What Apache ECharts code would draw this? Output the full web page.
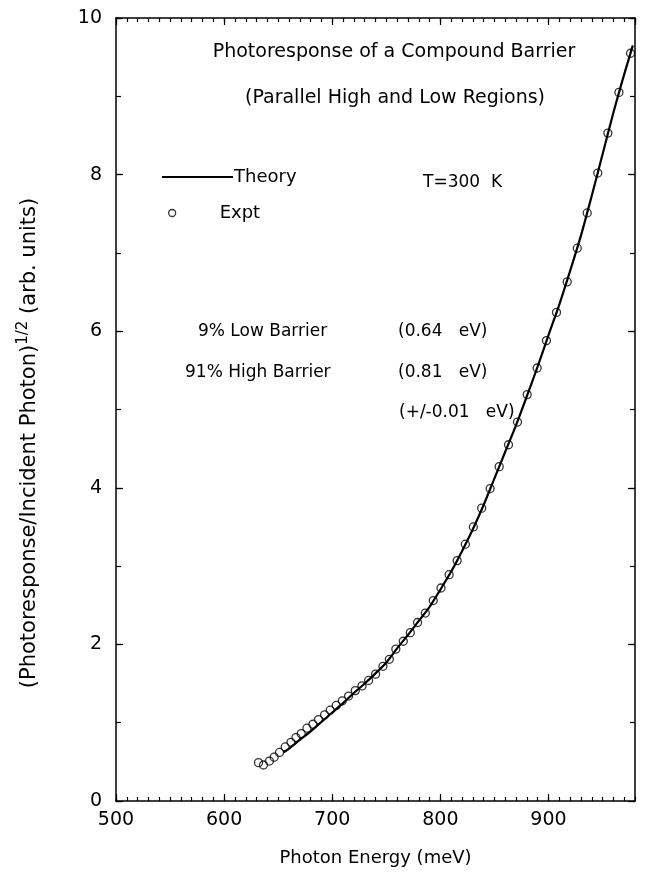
<!DOCTYPE html>
<html><head><meta charset="utf-8">
<script src="https://cdn.jsdelivr.net/npm/echarts@6/dist/echarts.min.js"></script>
<style>html,body{margin:0;padding:0;background:#fff}#c{width:645px;height:880px}</style>
</head><body><div id="c"></div>
<script>
// Experimental points: photon energy (meV), sqrt(yield) (arb. units)
const exptEnergy = [631.8,636.4,641.9,646.3,651.2,656.5,661.8,666.4,671.3,676.6,682.1,687.3,692.9,698.1,703.7,709.3,715.1,721.3,727.5,733.6,740.1,746.9,752.8,758.8,765.7,772.2,778.9,786.1,793.4,800.6,808.1,815.5,823.1,830.5,838.2,846.0,854.4,863.0,871.3,880.3,889.5,898.1,907.4,917.3,926.6,935.8,945.6,954.9,965.1,975.9];
const exptValue  = [0.49,0.46,0.51,0.56,0.62,0.69,0.75,0.81,0.86,0.93,0.98,1.04,1.10,1.16,1.22,1.28,1.34,1.41,1.47,1.54,1.62,1.72,1.81,1.94,2.04,2.15,2.28,2.40,2.56,2.72,2.89,3.07,3.28,3.50,3.74,3.99,4.27,4.55,4.84,5.19,5.53,5.88,6.24,6.63,7.06,7.51,8.02,8.53,9.05,9.55];
// Theory curve
const theoryEnergy = [655,660,670,680,690,700,710,720,730,740,750,760,770,780,790,800,810,820,830,840,850,860,870,880,890,900,910,920,930,940,950,960,970,978];
const theoryValue  = [0.62,0.67,0.78,0.89,1.01,1.13,1.25,1.38,1.50,1.63,1.77,1.95,2.12,2.30,2.48,2.70,2.93,3.19,3.47,3.78,4.12,4.46,4.80,5.17,5.55,5.95,6.34,6.77,7.22,7.73,8.26,8.79,9.28,9.65];
// Axis ranges / tick steps
const xRange = [500, 980];
const yRange = [0, 10];
const xTickStep = 100, xMinorStep = 10;
const yTickStep = 2, yMinorStep = 1;

const F = 'DejaVu Sans';
const chart = echarts.init(document.getElementById('c'), null, {renderer:'canvas'});
const grid = {left:116, right:10, top:18, bottom:79};
function xAx(pos, interval, len, labels, line, name){
  return {type:'value', position:pos, min:xRange[0], max:xRange[1], interval:interval,
    axisLine:{show:line, onZero:false, lineStyle:{color:'#000', width:1.5}},
    axisTick:{show:true, inside:true, length:len, lineStyle:{color:'#000', width:1.2}},
    axisLabel:{show:labels, showMaxLabel:false, color:'#000', fontFamily:F, fontSize:19, margin:10},
    splitLine:{show:false},
    name:name||'', nameLocation:'middle', nameGap:48,
    nameTextStyle:{color:'#000', fontFamily:F, fontSize:18}};
}
function yAx(pos, interval, len, labels, line){
  return {type:'value', position:pos, min:yRange[0], max:yRange[1], interval:interval,
    axisLine:{show:line, onZero:false, lineStyle:{color:'#000', width:1.5}},
    axisTick:{show:true, inside:true, length:len, lineStyle:{color:'#000', width:1.2}},
    axisLabel:{show:labels, color:'#000', fontFamily:F, fontSize:19, margin:14},
    splitLine:{show:false}};
}
function txt(x, y, s, size, align){
  return {type:'text', x:x, y:y, style:{text:s, font:size+'px "DejaVu Sans"', fill:'#000', align:align||'left', verticalAlign:'middle'}};
}
chart.setOption({
  backgroundColor:'#fff',
  animation:false,
  grid:grid,
  xAxis:[
    xAx('bottom', xTickStep, 7, true, true, 'Photon Energy (meV)'),
    xAx('bottom', xMinorStep, 4, false, false),
    xAx('top', xTickStep, 7, false, true),
    xAx('top', xMinorStep, 4, false, false)
  ],
  yAxis:[
    yAx('left', yTickStep, 7, true, true),
    yAx('left', yMinorStep, 5, false, false),
    yAx('right', yTickStep, 7, false, true),
    yAx('right', yMinorStep, 5, false, false)
  ],
  legend:[
    {data:[{name:'Theory', icon:'rect'}], left:157, top:163, itemWidth:71, itemHeight:2, itemGap:0,
     itemStyle:{color:'#000'},
     textStyle:{color:'#000', fontFamily:F, fontSize:18, padding:[0,0,0,-4]}},
    {data:[{name:'Expt', icon:'circle'}], left:163, top:199, itemWidth:7, itemHeight:7,
     itemStyle:{color:'#fff', borderColor:'#000', borderWidth:1.3},
     textStyle:{color:'#000', fontFamily:F, fontSize:18, padding:[0,0,0,39]}}
  ],
  graphic:[
    txt(394, 52, 'Photoresponse of a Compound Barrier', 19, 'center'),
    txt(395, 98, '(Parallel High and Low Regions)', 19, 'center'),
    txt(423, 183, 'T=300  K', 17),
    txt(198, 332, '9% Low Barrier', 17),
    txt(398, 332, '(0.64   eV)', 17),
    txt(185, 373, '91% High Barrier', 17),
    txt(398, 373, '(0.81   eV)', 17),
    txt(399, 413, '(+/-0.01   eV)', 17),
    {type:'text', x:30, y:443, rotation:Math.PI/2,
     style:{text:'{a|(Photoresponse/Incident Photon)}{s|1/2}{a| (arb. units)}', align:'center', verticalAlign:'middle', fill:'#000',
       rich:{a:{fontFamily:F, fontSize:21, fill:'#000', color:'#000'}, s:{fontFamily:F, fontSize:15, fill:'#000', color:'#000', padding:[0,0,14,0]}}}}
  ],
  series:[
    {name:'Theory', type:'line', xAxisIndex:0, yAxisIndex:0, smooth:0.3, symbol:'none',
     lineStyle:{color:'#000', width:2.2}, itemStyle:{color:'#000'},
     data: theoryEnergy.map((e,i)=>[e, theoryValue[i]]), z:3},
    {name:'Expt', type:'scatter', xAxisIndex:0, yAxisIndex:0, symbol:'circle', symbolSize:8,
     itemStyle:{color:'rgba(255,255,255,0)', borderColor:'#000', borderWidth:1.3},
     data: exptEnergy.map((e,i)=>[e, exptValue[i]]), z:4}
  ]
});
</script></body></html>
